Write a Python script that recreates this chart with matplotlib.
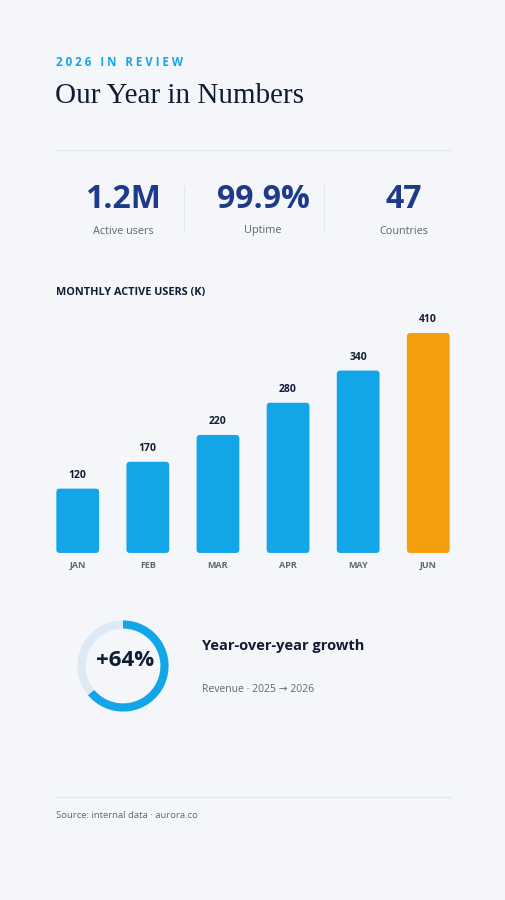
import matplotlib
matplotlib.use("Agg")
import matplotlib.pyplot as plt
from matplotlib.patches import FancyBboxPatch

months = ["JAN", "FEB", "MAR", "APR", "MAY", "JUN"]
users_k = [120, 170, 220, 280, 340, 410]
kpi_values = ["1.2M", "99.9%", "47"]
kpi_labels = ["Active users", "Uptime", "Countries"]
growth_pct = 64

BG = "#f4f6f9"
NAVY = "#1e3a8a"
DARK = "#0f1c33"
BLUE = "#12a5e8"
ORANGE = "#f59e0b"
GREY = "#5f6875"
SANS = ["Open Sans", "Noto Sans", "DejaVu Sans"]

fig = plt.figure(figsize=(5.06, 9.0), dpi=100, facecolor=BG)
W, H = 506, 900

ov = fig.add_axes([0, 0, 1, 1], zorder=0)
ov.set_xlim(0, W); ov.set_ylim(H, 0); ov.axis("off")

ov.text(56, 62, "2 0 2 6   I N   R E V I E W", color=BLUE, fontsize=8.3,
        fontweight="bold", family=SANS, va="center", ha="left")
ov.text(55, 96, "Our Year in Numbers", color=DARK, fontsize=21,
        family=["Liberation Serif", "DejaVu Serif"], va="center", ha="left")
ov.plot([56, 450], [150, 150], color="#e1e5eb", lw=0.8)

kx = [123, 263, 404]
for x, v, l in zip(kx, kpi_values, kpi_labels):
    ov.text(x, 200, v, color=NAVY, fontsize=23, fontweight="bold", family=SANS,
            ha="center", va="center")
    ov.text(x, 231, l, color=GREY, fontsize=7.8, family=SANS, ha="center", va="center")
for x in [184, 324]:
    ov.plot([x, x], [186, 230], color="#e3e7ec", lw=0.8)

ov.text(56, 293, "MONTHLY ACTIVE USERS (K)", color=DARK, fontsize=7.8,
        fontweight="bold", family=SANS, ha="left", va="center")

# bar chart
ax = fig.add_axes([56 / W, 1 - 553 / H, 394 / W, 253 / H], zorder=1)
ax.set_facecolor("none")
ax.set_xlim(-0.31, 5.31)
ax.set_ylim(0, 253 / (220 / 410))
colors = [BLUE] * (len(users_k) - 1) + [ORANGE]
bars = ax.bar(range(len(months)), users_k, width=0.61, color=colors)
# round the corners
for b in bars:
    b.set_visible(False)
    p = FancyBboxPatch((b.get_x(), 0), b.get_width(), b.get_height(),
                       boxstyle="round,pad=0,rounding_size=0.05",
                       mutation_aspect=(253 / (220 / 410)) / 253 * 394 / 5.62 * 1.0,
                       fc=b.get_facecolor(), ec="none")
    ax.add_patch(p)
    ax.text(b.get_x() + b.get_width() / 2, b.get_height() + 14, f"{int(b.get_height())}",
            ha="center", va="bottom", fontsize=7.5, fontweight="bold", color=DARK, family=SANS)
for s in ax.spines.values():
    s.set_visible(False)
ax.axhline(0, color="#e1e5eb", lw=0.8)
ax.set_yticks([])
ax.set_xticks(range(len(months)))
ax.set_xticklabels(months, fontsize=6.5, fontweight="bold", color=GREY, family=SANS)
ax.tick_params(axis="x", length=0, pad=6)

# donut
dax = fig.add_axes([66 / W, 1 - 723 / H, 114 / W, 114 / H], zorder=1)
dax.pie([growth_pct, 100 - growth_pct], colors=[BLUE, "#dde9f5"], startangle=90,
        counterclock=False, wedgeprops=dict(width=0.18, edgecolor="none"))
dax.set_aspect("equal")
ov.text(125, 661, f"+{growth_pct}%", color=DARK, fontsize=16, fontweight="bold",
        family=SANS, ha="center", va="center")
ov.text(202, 646, "Year-over-year growth", color=DARK, fontsize=10.5, fontweight="bold",
        family=SANS, ha="left", va="center")
ov.text(202, 689, "Revenue · 2025 → 2026", color=GREY, fontsize=7.5,
        family=SANS, ha="left", va="center")

ov.plot([56, 450], [797, 797], color="#e1e5eb", lw=0.8)
ov.text(56, 816, "Source: internal data · aurora.co", color=GREY, fontsize=6.8,
        family=SANS, ha="left", va="center")

fig.savefig("out.png", dpi=100, facecolor=BG)
